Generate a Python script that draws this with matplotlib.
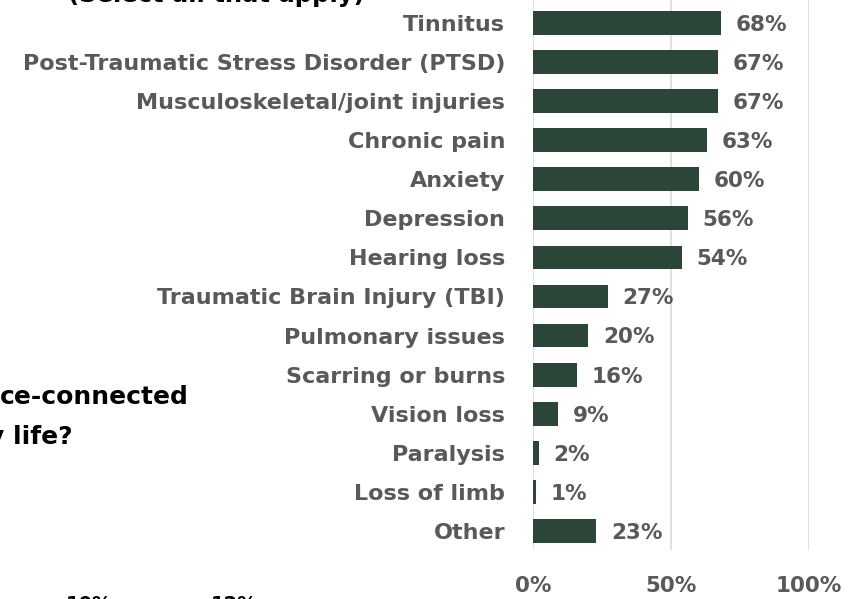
import matplotlib
matplotlib.use("Agg")
import matplotlib.pyplot as plt

# Service-connected conditions reported (select all that apply)
conditions = [
    "Tinnitus",
    "Post-Traumatic Stress Disorder (PTSD)",
    "Musculoskeletal/joint injuries",
    "Chronic pain",
    "Anxiety",
    "Depression",
    "Hearing loss",
    "Traumatic Brain Injury (TBI)",
    "Pulmonary issues",
    "Scarring or burns",
    "Vision loss",
    "Paralysis",
    "Loss of limb",
    "Other",
]
shares = [68, 67, 67, 63, 60, 56, 54, 27, 20, 16, 9, 2, 1, 23]
xticks = [0, 50, 100]
xtick_labels = ["0%", "50%", "100%"]

bar_color = "#2b4636"
label_gray = "#595959"
plt.rcParams["font.family"] = ["DejaVu Sans"]

fig = plt.figure(figsize=(8.55, 5.99), dpi=100)
ax = fig.add_axes([533 / 855, 1 - 550 / 599, 276 / 855, 550 / 599])

y = list(range(len(conditions)))
ax.barh(y, shares, height=0.61, color=bar_color, zorder=3)
ax.set_ylim(13.49, -0.59)
ax.set_xlim(0, 100)

for yi, v in zip(y, shares):
    ax.text(v + 5.3, yi + 0.05, f"{v}%", va="center", ha="left",
            fontsize=15.5, fontweight="bold", color=label_gray)

ax.set_yticks(y)
ax.set_yticklabels(conditions, fontsize=16, fontweight="bold", color=label_gray)
ax.set_xticks(xticks)
ax.set_xticklabels(xtick_labels, fontsize=15.5, fontweight="bold", color=label_gray)
ax.tick_params(axis="y", length=0, pad=20)
ax.tick_params(axis="x", length=0, pad=19)
ax.grid(axis="x", color="#d9d9d9", linewidth=1.2, zorder=0)
for s in ax.spines.values():
    s.set_visible(False)

# surrounding page text, partly cut off at the edges
fig.text(68 / 855, 1 + 5 / 599, "(Select all that apply)", ha="left", va="center",
         fontsize=17.5, fontweight="bold", color="black")
fig.text(0, 1 - 397 / 599, "ce-connected", ha="left", va="center",
         fontsize=18, fontweight="bold", color="black")
fig.text(-12 / 855, 1 - 437 / 599, "y life?", ha="left", va="center",
         fontsize=18, fontweight="bold", color="black")
fig.text(66 / 855, 1 - 595 / 599, "10%", ha="left", va="top",
         fontsize=14, fontweight="bold", color="black")
fig.text(211 / 855, 1 - 595 / 599, "12%", ha="left", va="top",
         fontsize=14, fontweight="bold", color="black")

fig.savefig("out.png", dpi=100)
